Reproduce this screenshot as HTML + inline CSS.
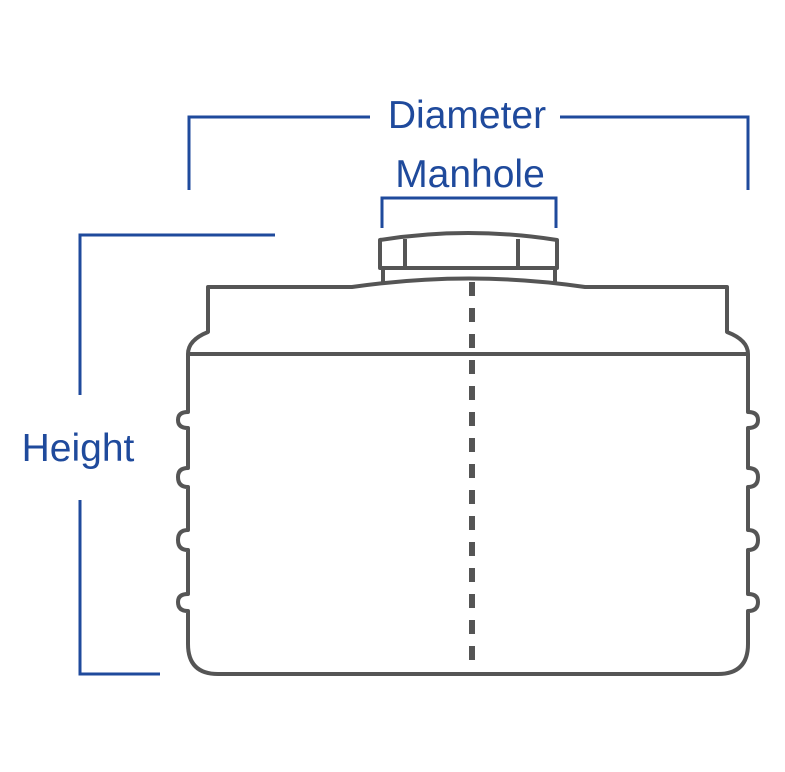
<!DOCTYPE html>
<html><head><style>html,body{margin:0;padding:0;background:#fff;}svg{display:block}</style></head>
<body>
<svg width="785" height="772" viewBox="0 0 785 772" xmlns="http://www.w3.org/2000/svg">
<g fill="none" stroke="#1f4a9c" stroke-width="3">
<polyline points="189,190 189,117 370,117"/>
<polyline points="560,117 748,117 748,190"/>
<polyline points="382,228 382,198 556,198 556,228"/>
<polyline points="275,235 80,235 80,395"/>
<polyline points="80,500 80,674 160,674"/>
</g>
<g fill="#1f4a9c" font-family="Liberation Sans, Arial, sans-serif" font-size="39">
<text x="467" y="128" text-anchor="middle">Diameter</text>
<text x="470" y="187" text-anchor="middle">Manhole</text>
<text x="78" y="461" text-anchor="middle">Height</text>
</g>
<g fill="none" stroke="#555" stroke-width="4" stroke-linejoin="round">
<!-- cap -->
<path d="M380,268 L380,240 Q468,226 557,240 L557,268 Z"/>
<line x1="405" y1="239" x2="405" y2="268"/>
<line x1="518" y1="239" x2="518" y2="268"/>
<line x1="383" y1="268" x2="383" y2="282"/>
<line x1="555" y1="268" x2="555" y2="282"/>
<!-- body -->
<path d="M208,287 L352,287 Q470,270 585,287 L727,287 L727,332 Q748,340 748,354 L748,412 Q758,412 758,420 Q758,428 748,428 L748,468 Q758,468 758,477 Q758,487 748,487 L748,530 Q758,530 758,540 Q758,550 748,550 L748,594 Q758,594 758,602 Q758,611 748,611 L748,644 Q748,674 718,674 L218,674 Q188,674 188,644 L188,611 Q178,611 178,602 Q178,594 188,594 L188,550 Q178,550 178,540 Q178,530 188,530 L188,487 Q178,487 178,477 Q178,468 188,468 L188,428 Q178,428 178,420 Q178,412 188,412 L188,354 Q188,340 208,332 Z"/>
<line x1="188" y1="354" x2="748" y2="354"/>
<line x1="472" y1="282" x2="472" y2="674" stroke-width="6" stroke-dasharray="14,12" stroke-linejoin="miter"/>
</g>
</svg>
</body></html>
